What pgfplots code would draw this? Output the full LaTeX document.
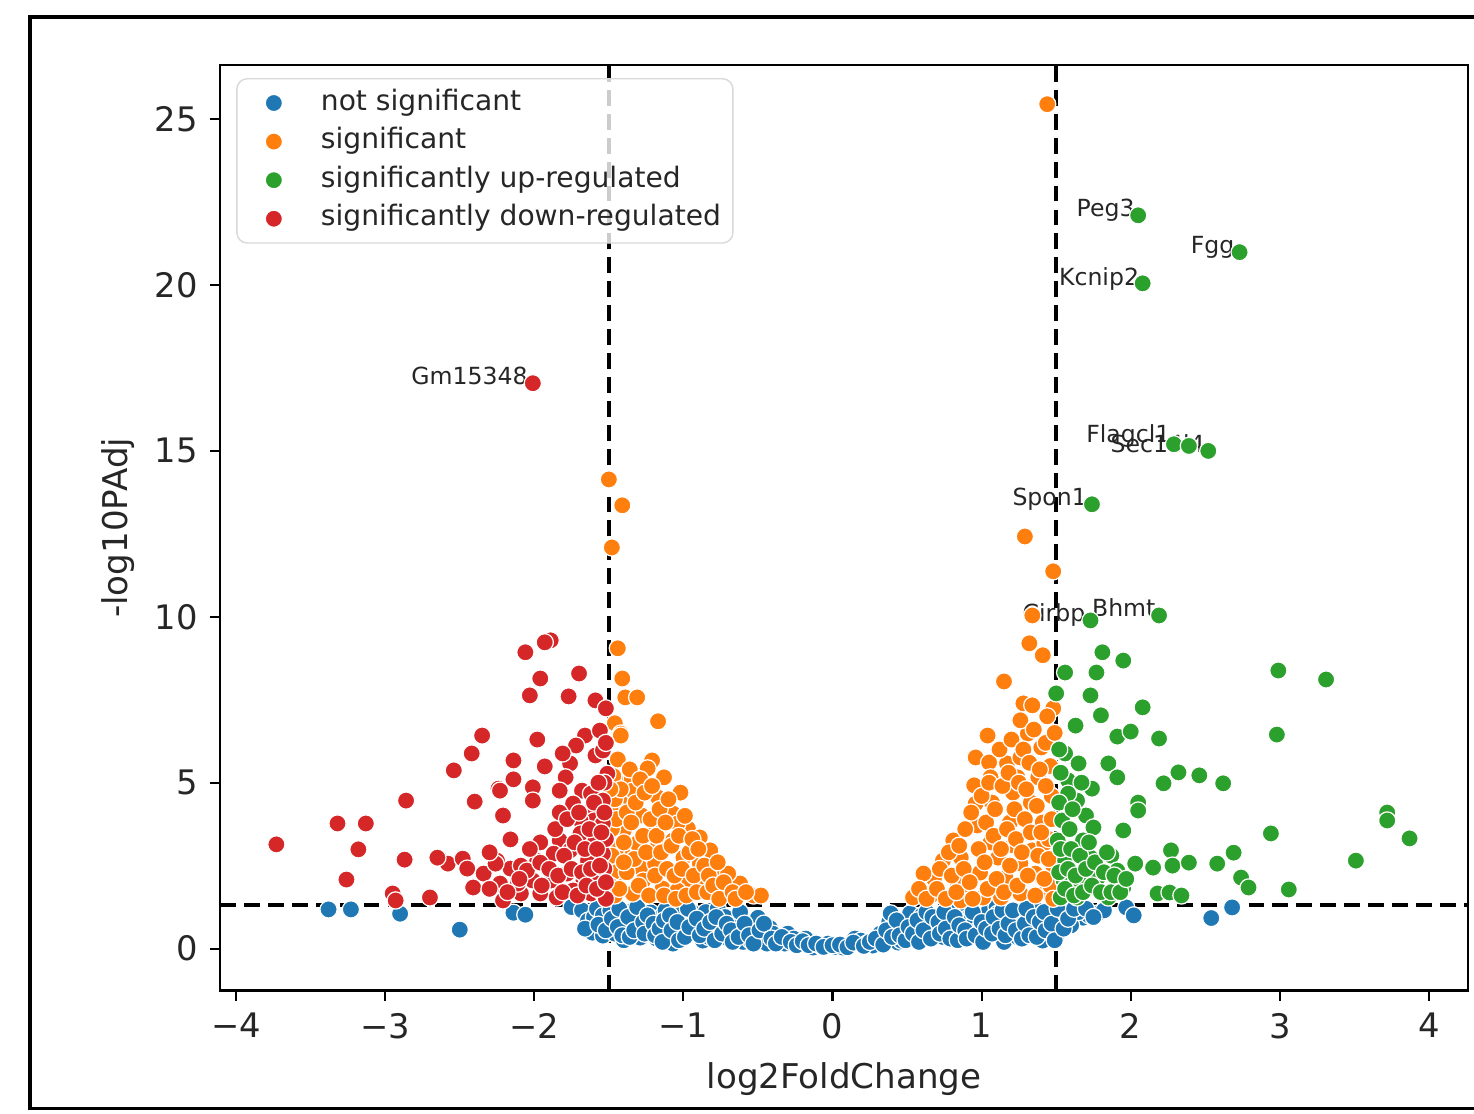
\documentclass[border=0pt]{standalone}
\usepackage{pgfplots}
\pgfplotsset{compat=1.18}
\usepackage{fontspec}
\setmainfont{DejaVu Sans}

\definecolor{tabblue}{HTML}{1F77B4}
\definecolor{taborange}{HTML}{FF7F0E}
\definecolor{tabgreen}{HTML}{2CA02C}
\definecolor{tabred}{HTML}{D62728}

\pgfplotsset{
  dot/.style={only marks, color=#1, mark=*, mark size=2.45pt,
    mark options={draw=white, line width=0.35pt, fill=#1},
    legend image code/.code={\path[draw=none, fill=none] (0cm,0cm) -- (0.72cm,0cm);
      \begin{scope}[fill opacity=1, draw opacity=1]\draw[##1] plot coordinates {(0.32cm,0cm)};\end{scope}}},
  thr/.style={forget plot, black, line width=1.1pt, dash pattern=on 4.5pt off 2.3pt},
}

\begin{document}
\begin{tikzpicture}
\begin{axis}[
  name=ax,
  scale only axis,
  width=12.47cm, height=9.25cm,
  xmin=-4.107, xmax=4.262,
  ymin=-1.27, ymax=26.63,
  xtick={-4,-3,-2,-1,0,1,2,3,4},
  xticklabels={−4,−3,−2,−1,0,1,2,3,4},
  ytick={0,5,10,15,20,25},
  xtick pos=bottom, ytick pos=left,
  tick align=outside,
  major tick length=0.1cm,
  tick style={black, line width=0.6pt},
  axis line style={line width=0.7pt},
  /pgf/number format/assume math mode=true,
  tick label style={font=\fontsize{9.6}{11}\selectfont, text=black!85},
  xlabel={log2FoldChange},
  ylabel={-log10PAdj},
  label style={font=\fontsize{9.7}{11}\selectfont, text=black!85},
  xlabel style={at={(axis description cs:0.5,-0.0951)}, anchor=center},
  ylabel style={at={(axis description cs:-0.0818,0.5)}, anchor=center},
  legend cell align=left,
  legend style={at={(axis description cs:0.0128,0.986)}, anchor=north west,
    draw=black!15, rounded corners=3pt, fill=white, fill opacity=0.8,
    text opacity=1, draw opacity=1,
    font=\fontsize{8}{9.6}\selectfont, text=black!85,
    inner xsep=0.05cm, inner ysep=0.06cm, row sep=0.02cm,
    nodes={inner ysep=1.2pt, text height=6pt, text depth=2pt}},
]

% not significant
\addplot[dot=tabblue] coordinates {
(-3.38,1.18)(-3.23,1.18)(-2.90,1.05)(-2.50,0.57)(-2.14,1.08)(-2.06,1.02)
(1.68,0.93)(1.72,1.0)(1.78,1.06)(1.82,1.15)(1.97,1.24)(2.02,1.0)(2.54,0.92)(2.68,1.24)
(-1.75,1.25)(-1.68,1.15)(-1.64,0.84)(-1.61,0.48)(-1.60,0.95)(-1.58,1.2)(-1.54,0.39)(-1.54,1.0)
(-1.50,0.7)(-1.49,1.15)(-1.46,0.45)(-1.42,0.93)(-1.40,0.25)(-1.38,0.60)(-1.35,0.75)(-1.34,1.15)
(-1.30,0.90)(-1.29,0.33)(-1.25,0.65)(-1.22,1.09)(-1.21,0.54)(-1.18,0.30)(-1.15,0.95)(-1.12,1.15)
(-1.10,0.78)(-1.07,0.15)(-1.05,0.40)(-1.02,1.06)(-1.00,0.54)(-0.98,0.80)(-0.94,1.09)(-0.93,0.45)
(-0.90,0.62)(-0.87,0.84)(-0.87,0.24)(-0.85,1.10)(-0.83,0.35)(-0.80,0.54)(-0.77,1.2)(-0.75,0.65)
(-0.72,0.95)(-0.70,0.30)(-0.66,0.42)(-0.64,0.75)(-0.62,1.1)(-0.60,0.20)(-0.57,0.54)(-0.55,0.24)
(-0.52,0.70)(-0.50,0.93)(-0.47,0.32)(-0.44,0.15)(-0.42,0.62)(-0.40,0.45)(-0.36,0.25)(-0.32,0.15)
(-0.30,0.45)(-0.26,0.30)(-0.22,0.12)(-0.18,0.30)(-0.13,0.03)(-0.08,0.08)(-0.03,0.15)(0.02,0.05)
(0.07,0.03)(0.12,0.10)(0.15,0.30)(0.19,0.24)(0.23,0.15)(0.27,0.09)(0.32,0.45)(0.35,0.25)
(0.38,0.80)(0.39,1.06)(0.41,0.63)(0.44,0.18)(0.46,0.24)(0.47,0.55)(0.50,0.85)(0.52,1.06)
(0.55,0.6)(0.56,0.30)(0.59,0.63)(0.60,1.0)(0.62,0.40)(0.64,0.84)(0.68,0.75)(0.70,0.54)
(0.74,0.35)(0.77,0.93)(0.78,1.24)(0.80,0.75)(0.83,0.54)(0.87,0.40)(0.88,1.15)(0.91,0.93)
(0.93,0.93)(0.95,0.75)(0.97,0.54)(0.99,0.54)(1.02,0.35)(1.04,1.09)(1.06,0.75)(1.10,1.25)
(1.11,1.06)(1.13,0.84)(1.15,0.20)(1.17,0.95)(1.19,0.54)(1.22,0.70)(1.24,0.35)(1.26,0.93)
(1.28,1.06)(1.31,0.54)(1.33,0.80)(1.36,1.20)(1.38,0.60)(1.40,0.33)(1.41,0.24)(1.44,0.84)
(1.45,0.50)(1.48,1.06)(1.50,0.35)(1.53,0.93)(1.56,1.15)(1.60,0.70)(1.65,1.10)
(-1.66,0.60)(-1.57,0.72)(-1.52,0.55)(-1.48,0.90)(-1.44,0.65)(-1.43,1.20)(-1.41,0.40)(-1.37,0.95)
(-1.36,0.35)(-1.33,0.55)(-1.31,1.25)(-1.27,0.80)(-1.26,0.45)(-1.24,1.0)(-1.20,0.75)(-1.19,0.40)
(-1.16,0.60)(-1.14,0.20)(-1.13,0.85)(-1.09,1.0)(-1.08,0.55)(-1.04,0.80)(-1.03,0.25)(-0.99,0.35)
(-0.97,1.20)(-0.96,0.65)(-0.91,0.90)(-0.89,0.40)(-0.86,0.60)(-0.82,0.80)(-0.79,0.25)(-0.78,0.95)
(-0.74,0.45)(-0.71,0.75)(-0.68,0.55)(-0.67,0.20)(-0.63,0.35)(-0.59,0.75)(-0.56,0.40)(-0.53,0.15)
(-0.49,0.55)(-0.46,0.75)(-0.41,0.30)(-0.38,0.15)(-0.34,0.35)(-0.28,0.20)(-0.24,0.10)(-0.20,0.22)
(-0.16,0.10)(-0.11,0.15)(-0.06,0.05)(0.0,0.10)(0.05,0.12)(0.10,0.04)(0.14,0.18)(0.21,0.08)
(0.25,0.20)(0.29,0.30)(0.34,0.12)(0.36,0.55)(0.40,0.35)(0.43,0.85)(0.45,0.40)(0.49,0.25)
(0.51,0.65)(0.54,0.45)(0.57,0.85)(0.58,0.20)(0.61,0.55)(0.63,1.10)(0.66,0.30)(0.67,0.95)
(0.71,0.80)(0.72,0.45)(0.75,1.10)(0.76,0.60)(0.79,0.30)(0.82,0.95)(0.84,0.25)(0.85,0.70)
(0.89,0.55)(0.90,0.30)(0.94,1.10)(0.96,0.40)(1.00,0.80)(1.01,0.20)(1.03,0.60)(1.07,0.45)
(1.08,0.95)(1.12,0.60)(1.14,1.15)(1.16,0.40)(1.18,0.75)(1.21,1.15)(1.23,0.55)(1.27,0.30)
(1.29,0.75)(1.30,1.20)(1.32,0.40)(1.35,0.95)(1.37,0.35)(1.39,0.80)(1.42,1.10)(1.43,0.55)
(1.47,0.75)(1.49,0.25)(1.51,1.20)(1.55,0.60)(1.58,0.90)(1.62,1.20)(1.70,1.20)(1.75,0.95)
};
\addlegendentry{not significant}

% significant
\addplot[dot=taborange] coordinates {
(1.44,25.45)(-1.50,14.14)(-1.41,13.36)(-1.48,12.09)(1.29,12.42)(1.48,11.37)(1.34,10.04)
(1.32,9.2)(1.41,8.84)(1.15,8.05)(-1.44,9.05)(-1.41,8.14)(-1.39,7.57)(-1.31,7.57)(-1.17,6.85)
(1.48,7.24)(1.28,7.39)(1.34,7.33)(-1.46,6.79)(-1.42,6.48)(1.04,6.42)(1.31,6.48)(1.40,6.06)
(1.26,6.88)(0.96,5.76)(1.05,5.61)(1.17,5.58)(1.26,5.76)(0.95,4.92)(1.06,5.16)(1.24,5.16)
(1.38,5.16)(1.21,4.70)(0.96,4.37)(1.07,4.40)(1.33,4.40)(0.97,3.71)(1.19,3.80)(1.41,3.80)
(0.81,3.26)(1.06,3.20)(1.21,3.11)(1.34,2.96)(0.74,2.65)(0.99,2.29)(1.16,2.14)(1.36,2.26)
(0.68,2.11)(0.84,1.96)(0.61,2.26)(0.54,1.54)(0.66,1.60)(0.91,1.66)(1.01,1.54)(1.13,1.54)
(1.26,1.66)(1.44,1.75)(0.86,2.74)(1.11,2.74)(1.26,2.56)(1.42,3.17)(0.86,1.45)
(1.46,5.5)(1.47,4.6)(1.45,3.3)(1.48,2.5)(1.46,1.9)(1.43,6.2)
(0.58,1.8)(0.63,1.5)(0.70,1.8)(0.72,2.4)(0.76,1.5)(0.78,2.9)(0.80,2.2)(0.83,1.7)(0.85,3.1)
(0.88,2.4)(0.89,3.6)(0.92,2.0)(0.93,4.1)(0.94,1.5)(0.98,3.0)(1.00,4.6)(1.02,2.6)(1.03,3.8)
(1.04,1.8)(1.05,5.0)(1.08,3.4)(1.09,4.2)(1.10,2.1)(1.12,6.0)(1.13,3.0)(1.14,4.9)(1.15,1.7)
(1.17,3.6)(1.18,5.3)(1.19,2.5)(1.20,6.3)(1.22,4.2)(1.23,3.3)(1.24,1.9)(1.25,5.0)(1.27,2.9)
(1.28,6.0)(1.29,3.9)(1.30,4.8)(1.31,2.2)(1.32,5.6)(1.33,3.5)(1.35,6.6)(1.36,1.6)(1.37,4.3)
(1.38,2.8)(1.39,5.4)(1.40,3.5)(1.42,2.1)(1.43,4.9)(1.44,7.0)(1.45,2.7)(1.47,3.9)(1.48,1.5)
(1.49,6.5)
(-1.42,6.42)(-1.21,5.67)(-1.24,5.43)(-1.13,5.16)(-1.36,5.07)(-1.46,5.13)(-1.02,4.70)
(-1.17,4.55)(-1.36,4.46)(-1.28,4.01)(-1.07,4.07)(-0.97,3.62)(-0.89,3.35)(-1.40,3.56)
(-1.17,3.11)(-1.41,2.90)(-1.29,2.44)(-1.19,2.56)(-1.00,2.74)(-0.89,2.56)(-0.79,2.35)
(-0.97,2.05)(-1.14,1.81)(-1.34,1.66)(-0.62,1.96)(-0.53,1.60)(-0.75,1.75)(-0.87,1.96)
(-1.04,1.75)(-1.46,2.05)(-1.44,2.56)(-1.31,3.17)(-1.07,3.26)(-1.04,3.77)(-1.20,3.65)
(-1.44,4.16)(-1.34,4.76)(-0.48,1.60)(-1.27,2.05)(-0.82,2.96)(-0.70,2.26)
(-1.47,5.2)(-1.46,4.5)(-1.48,3.6)(-1.45,3.0)(-1.47,2.3)(-1.46,1.6)(-1.44,5.7)
(-1.45,3.9)(-1.42,4.8)(-1.40,3.2)(-1.38,4.1)(-1.38,2.3)(-1.36,5.4)(-1.35,3.8)(-1.33,2.7)
(-1.32,4.4)(-1.30,1.9)(-1.29,5.1)(-1.27,3.4)(-1.26,4.7)(-1.25,2.9)(-1.23,1.6)(-1.22,3.9)
(-1.21,4.9)(-1.19,2.2)(-1.18,3.4)(-1.16,4.2)(-1.15,2.9)(-1.13,1.6)(-1.12,3.8)(-1.11,2.4)
(-1.10,4.5)(-1.08,3.1)(-1.06,2.2)(-1.05,1.5)(-1.03,3.4)(-1.01,2.4)(-0.99,4.0)(-0.98,1.6)
(-0.96,2.9)(-0.94,3.3)(-0.93,2.2)(-0.91,1.7)(-0.90,3.0)(-0.86,2.5)(-0.84,1.7)(-0.83,2.2)
(-0.80,1.9)(-0.77,2.6)(-0.76,1.5)(-0.73,2.0)(-0.67,1.7)(-0.65,1.5)(-0.58,1.7)(-1.49,4.8)
(-1.48,2.8)(-1.49,1.9)(-1.43,1.8)(-1.40,2.6)
};
\addlegendentry{significant}

% significantly up-regulated
\addplot[dot=tabgreen] coordinates {
(2.05,22.1)(2.73,20.99)(2.08,20.05)(2.29,15.2)(2.39,15.15)(2.52,15.0)(1.74,13.39)
(1.73,9.89)(2.19,10.04)
(2.99,8.38)(3.31,8.11)(2.98,6.45)(1.81,8.93)(1.95,8.68)(1.56,8.32)(1.77,8.32)(1.73,7.63)
(1.80,7.03)(2.08,7.27)(1.63,6.72)(1.91,6.39)(2.00,6.54)(2.19,6.33)(1.50,7.69)(1.85,5.58)
(1.91,5.16)(1.74,4.82)(2.32,5.31)(2.46,5.22)(2.62,4.98)(2.22,4.98)(2.05,4.40)(2.05,4.16)
(1.95,3.56)(2.94,3.47)(3.72,4.10)(3.72,3.86)(3.87,3.32)(3.51,2.65)(3.06,1.78)(2.69,2.89)
(2.58,2.56)(2.74,2.14)(2.79,1.84)(2.27,2.96)(2.28,2.50)(2.39,2.59)(2.15,2.44)(2.03,2.56)
(2.18,1.66)(2.26,1.69)(2.34,1.60)(1.87,2.80)(1.78,2.14)(1.66,2.05)(1.56,2.65)(1.85,1.54)
(1.95,1.84)(1.64,1.54)(1.73,2.74)(1.68,3.26)(1.70,4.01)(1.64,4.46)(1.58,5.07)(1.56,5.88)
(1.65,5.58)(1.54,3.86)(1.51,3.26)(1.75,3.65)(1.55,2.05)(1.53,1.54)(1.91,2.35)(1.58,4.67)
(1.52,6.0)(1.53,5.3)(1.52,4.4)(1.53,3.0)(1.52,2.3)
(1.56,1.8)(1.58,2.4)(1.60,3.0)(1.62,1.6)(1.63,2.2)(1.66,2.8)(1.68,1.7)(1.70,2.4)(1.72,3.2)
(1.74,1.9)(1.76,2.6)(1.80,1.7)(1.82,2.3)(1.84,2.9)(1.87,1.7)(1.89,2.2)(1.93,1.7)(1.97,2.1)
(1.61,4.2)(1.59,3.6)(1.67,5.0)
};
\addlegendentry{significantly up-regulated}

% significantly down-regulated
\addplot[dot=tabred] coordinates {
(-2.01,17.04)
(-3.73,3.14)(-3.32,3.77)(-3.13,3.77)(-3.18,2.99)(-3.26,2.08)(-2.86,4.46)(-2.87,2.68)
(-2.95,1.66)(-2.93,1.45)(-2.70,1.54)(-2.64,2.74)(-2.58,2.56)(-2.48,2.71)(-2.45,2.41)
(-2.54,5.37)(-2.42,5.88)(-2.35,6.42)(-2.40,4.43)(-2.21,4.01)(-2.16,3.29)(-2.34,2.26)
(-2.41,1.84)(-2.25,2.65)(-2.16,2.41)(-2.21,1.45)(-2.24,4.82)(-2.14,5.67)(-2.14,5.10)
(-2.23,4.76)(-2.06,8.93)(-1.89,9.29)(-1.93,9.23)(-1.96,8.14)(-2.03,7.63)(-1.70,8.29)
(-1.77,7.60)(-1.59,7.48)(-1.52,7.24)(-1.98,6.30)(-1.93,5.49)(-2.01,4.86)(-2.01,4.46)
(-1.66,6.42)(-1.72,6.12)(-1.76,5.58)(-1.81,5.88)(-1.59,5.82)(-1.79,5.16)(-1.83,4.76)
(-1.68,4.76)(-1.74,4.37)(-1.62,4.67)(-1.61,4.25)(-1.83,4.10)(-1.60,3.86)(-1.69,3.86)
(-1.54,3.77)(-1.54,4.46)(-1.51,5.27)(-1.54,5.97)(-1.56,6.57)(-1.96,3.20)(-1.83,3.26)
(-1.69,3.47)(-1.59,3.26)(-2.09,2.50)(-1.98,2.65)(-1.87,2.86)(-1.76,2.96)(-1.64,2.65)
(-1.54,2.86)(-2.01,2.05)(-1.89,2.05)(-1.78,2.26)(-1.67,2.05)(-1.56,2.14)(-2.09,1.66)
(-1.96,1.66)(-1.85,1.54)(-1.74,1.75)(-1.62,1.66)(-1.54,1.66)(-2.23,1.96)(-2.11,1.96)
(-2.05,2.35)(-1.96,2.59)(-2.26,2.56)(-2.65,2.74)
(-1.52,6.2)(-1.53,5.0)(-1.52,3.3)(-1.53,2.4)(-1.52,1.5)
(-1.95,1.9)(-1.90,2.4)(-1.86,3.6)(-1.84,2.2)(-1.81,1.7)(-1.80,2.8)(-1.78,3.9)(-1.75,2.4)
(-1.73,3.2)(-1.71,1.6)(-1.70,4.1)(-1.68,2.3)(-1.66,3.0)(-1.65,1.9)(-1.63,3.6)(-1.62,2.4)
(-1.60,4.4)(-1.58,1.8)(-1.58,3.0)(-1.57,5.0)(-1.56,2.5)(-1.55,3.5)(-1.53,4.1)(-1.52,2.0)
(-2.03,3.0)(-2.10,2.1)(-2.18,1.7)(-2.30,1.8)(-2.30,2.9)
};
\addlegendentry{significantly down-regulated}

% thresholds
\addplot[thr] coordinates {(-1.5,-1.27) (-1.5,26.63)};
\addplot[thr] coordinates {(1.5,-1.27) (1.5,26.63)};
\addplot[thr] coordinates {(-4.107,1.30103) (4.262,1.30103)};

% gene labels
\begin{scope}[every node/.style={anchor=base east, inner sep=0pt, font=\fontsize{6.7}{8}\selectfont, text=black!85}]
\node at (axis cs:-2.04,17.0) {Gm15348};
\node at (axis cs:2.03,22.05) {Peg3};
\node at (axis cs:2.70,20.95) {Fgg};
\node at (axis cs:2.06,20.0) {Kcnip2};
\node at (axis cs:2.27,15.25) {Flagcl1};
\node at (axis cs:2.50,14.95) {Sec14l4};
\node at (axis cs:1.71,13.35) {Spon1};
\node at (axis cs:1.70,9.85) {Cirbp};
\node at (axis cs:2.17,10.0) {Bhmt};
\end{scope}
\end{axis}

\draw[line width=0.9pt] ([shift={(0.1cm,0.48cm)}]ax.north east) -| ([shift={(-1.90cm,-1.18cm)}]ax.south west) -- ([shift={(0.1cm,-1.18cm)}]ax.south east);
\pgfresetboundingbox
\path[use as bounding box] ([shift={(-2.20cm,-1.23cm)}]ax.south west) rectangle ([shift={(0.06cm,0.65cm)}]ax.north east);
\end{tikzpicture}
\end{document}
